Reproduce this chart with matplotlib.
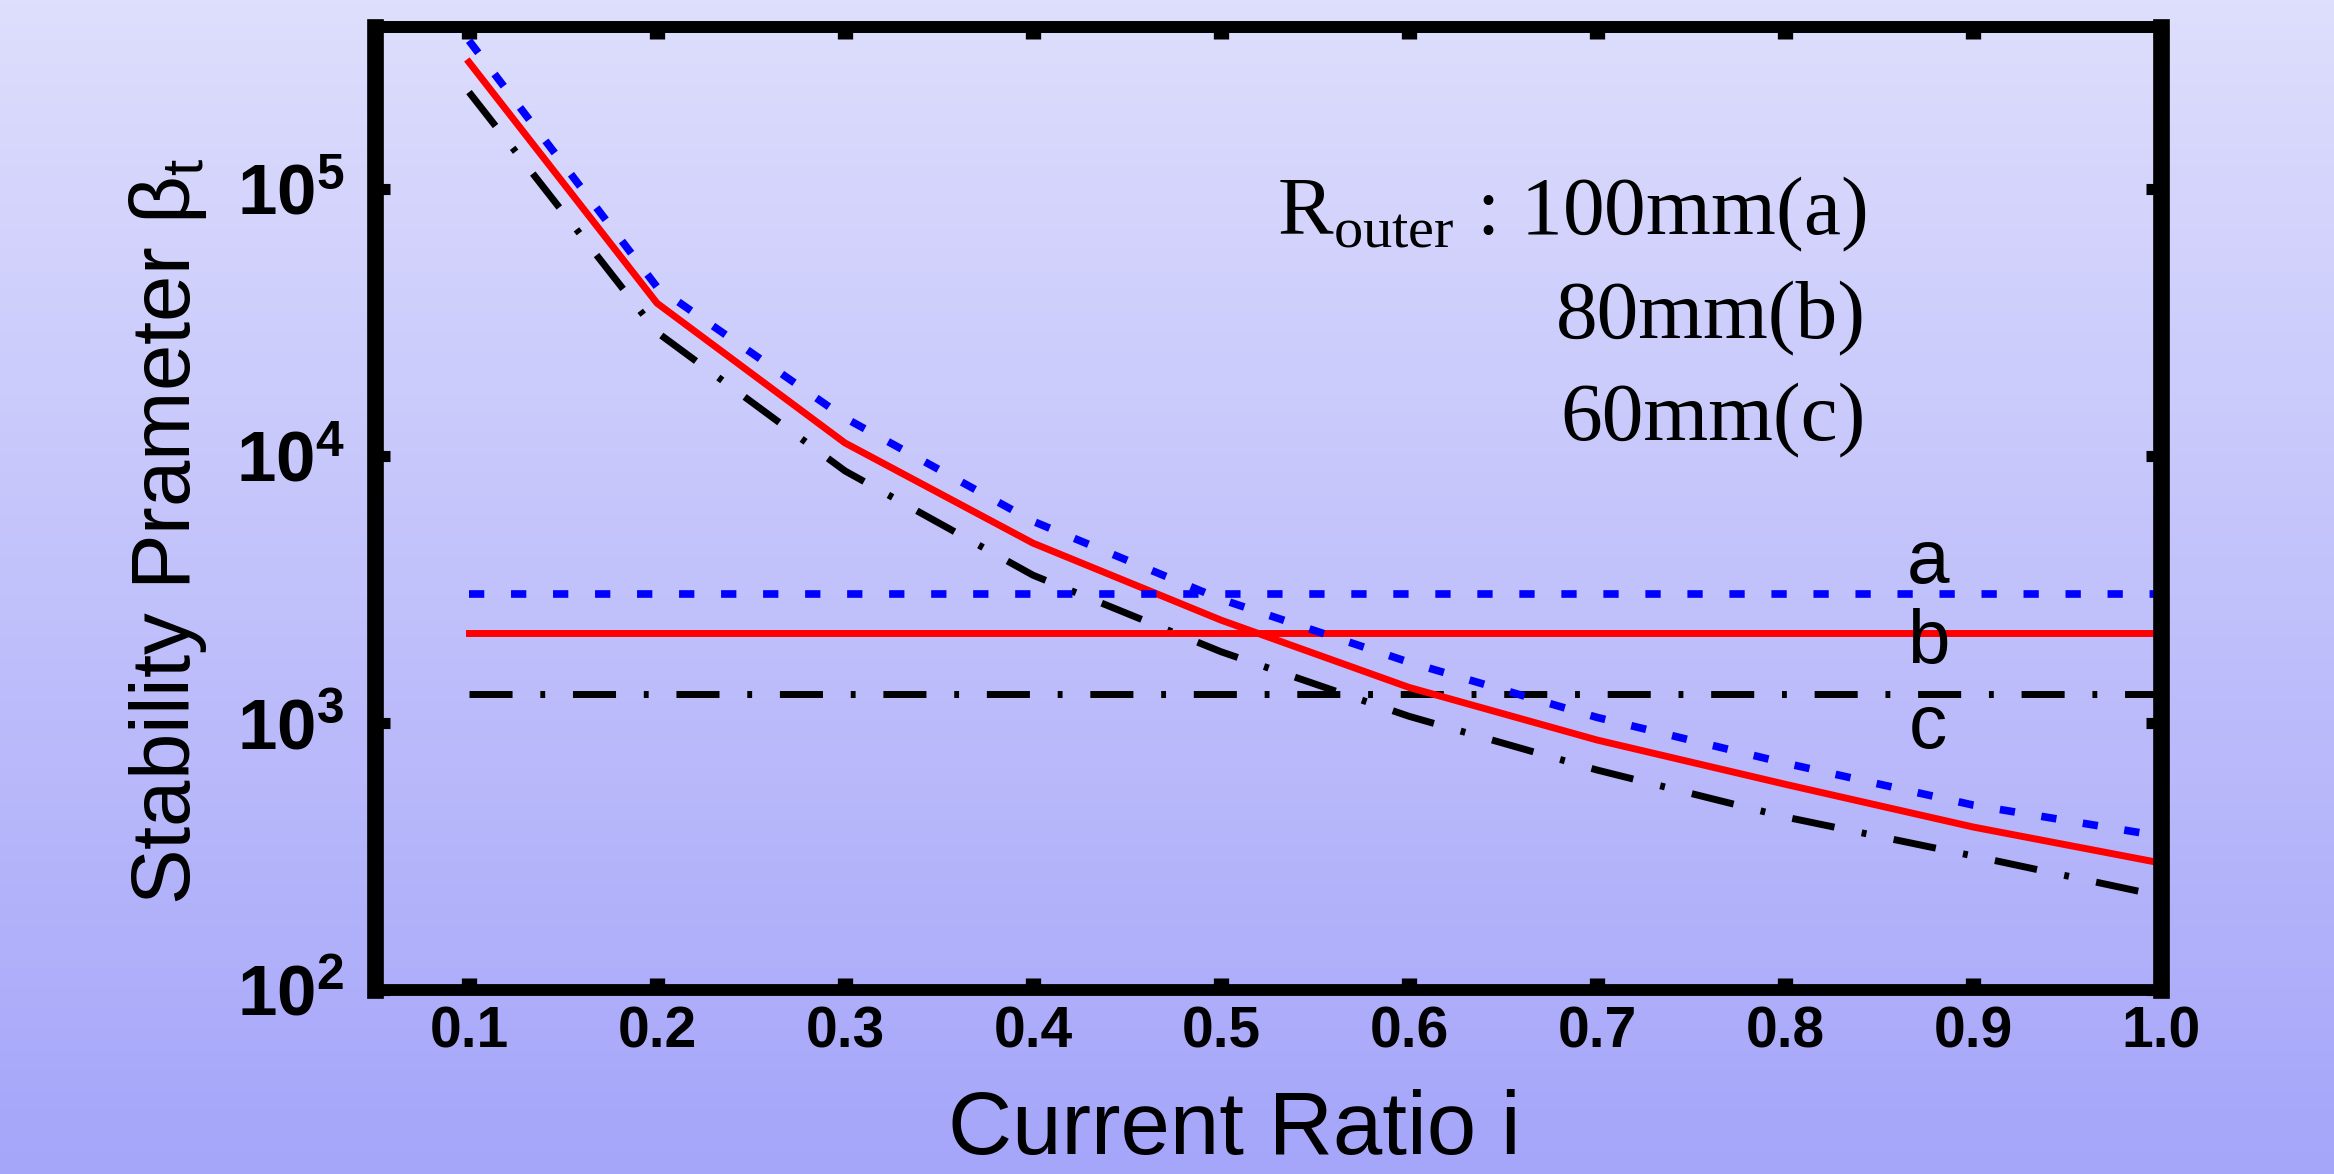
import matplotlib
matplotlib.use("Agg")
import matplotlib.pyplot as plt
import numpy as np
from matplotlib.ticker import FixedLocator, LogLocator, MultipleLocator, NullFormatter

plt.rcParams['font.family'] = ['Liberation Sans', 'DejaVu Sans']
plt.rcParams['mathtext.fontset'] = 'custom'
plt.rcParams['mathtext.rm'] = 'Liberation Sans:bold'
plt.rcParams['mathtext.bf'] = 'Liberation Sans:bold'
plt.rcParams['mathtext.sf'] = 'Liberation Sans'
plt.rcParams['mathtext.tt'] = 'Liberation Serif'

# data
current_ratio = [0.1, 0.2, 0.3, 0.4, 0.5, 0.6, 0.7, 0.8, 0.9, 1.0]
beta_a = [3.6e5, 4.3e4, 1.39e4, 5.7e3, 2.91e3, 1.69e3, 1050, 708, 493, 377]
beta_b = [2.99e5, 3.74e4, 1.12e4, 4.72e3, 2.43e3, 1.36e3, 864, 590, 408, 299]
beta_c = [2.31e5, 2.91e4, 8.8e3, 3.58e3, 1.85e3, 1.06e3, 667, 445, 318, 225]
limit_a = 3040
limit_b = 2170
limit_c = 1290
curve_names = ['a', 'b', 'c']
radius_labels = ['100mm(a)', '80mm(b)', '60mm(c)']
x_ticks = [0.1, 0.2, 0.3, 0.4, 0.5, 0.6, 0.7, 0.8, 0.9, 1.0]
x_ticklabels = ['0.1', '0.2', '0.3', '0.4', '0.5', '0.6', '0.7', '0.8', '0.9', '1.0']
y_ticks = [1e2, 1e3, 1e4, 1e5]
y_ticklabels = [r'$\mathbf{10^{2}}$', r'$\mathbf{10^{3}}$',
                r'$\mathbf{10^{4}}$', r'$\mathbf{10^{5}}$']

W, H = 2334, 1174
dpi = 100
fig = plt.figure(figsize=(W/dpi, H/dpi), dpi=dpi)

# vertical lavender gradient behind everything
bg = fig.add_axes([0, 0, 1, 1], zorder=0)
top_col = np.array([222, 222, 253]) / 255.
bot_col = np.array([165, 165, 250]) / 255.
t = np.linspace(0, 1, 256)[:, None]
grad = (top_col * (1 - t) + bot_col * t)[:, None, :]
bg.imshow(grad, aspect='auto', extent=[0, 1, 0, 1])
bg.axis('off')

left, right, top, bottom = 375, 2161, 27, 990
ax = fig.add_axes([left/W, 1 - bottom/H, (right-left)/W, (bottom-top)/H], zorder=1)
ax.patch.set_alpha(0)

lw = 5
dot = (0, (2.0, 3.5))
dashdot = (0, (6.2, 4.0, 0.7, 4.0))
ends = [current_ratio[0], current_ratio[-1]]

ax.plot(current_ratio, beta_c, color='black', lw=lw, ls=dashdot)
ax.plot(ends, [limit_c, limit_c], color='black', lw=lw, ls=dashdot)
ax.plot(current_ratio, beta_b, color='#ff0000', lw=lw)
ax.plot(ends, [limit_b, limit_b], color='#ff0000', lw=lw)
ax.plot(current_ratio, beta_a, color='#0000ff', lw=lw + 0.5, ls=dot)
ax.plot(ends, [limit_a, limit_a], color='#0000ff', lw=lw + 0.5, ls=dot)

ax.set_xlim(0.05, 1.0)
ax.set_yscale('log')
ax.set_ylim(100, 4.05e5)

# curve letters next to the horizontal lines
for name, ypos in zip(curve_names, [3340, 1680, 806]):
    ax.text(0.876, ypos, name, ha='center', va='baseline', fontsize=55)

# x axis: major ticks in, minor ticks out at the bottom
ax.set_xticks(x_ticks)
ax.set_xticklabels(x_ticklabels, fontweight='bold')
ax.xaxis.set_minor_locator(MultipleLocator(0.05))
ax.tick_params(axis='x', which='major', direction='in', length=8.5, width=11,
               pad=11, labelsize=41, top=False)
ax.tick_params(axis='x', which='minor', direction='out', length=3, width=11, top=False)

sec = ax.secondary_xaxis('top')
sec.set_xticks(x_ticks)
sec.xaxis.set_minor_locator(MultipleLocator(0.05))
sec.tick_params(which='major', direction='in', length=8.5, width=11, labeltop=False)
sec.tick_params(which='minor', direction='in', length=2.5, width=11)
sec.spines['top'].set_linewidth(8.5)

# y axis
ax.yaxis.set_major_locator(FixedLocator(y_ticks))
ax.set_yticklabels(y_ticklabels)
ax.yaxis.set_minor_locator(LogLocator(base=10, subs=np.arange(2, 10), numticks=20))
ax.yaxis.set_minor_formatter(NullFormatter())
ax.tick_params(axis='y', which='major', direction='in', length=11, width=8,
               pad=22, labelsize=51, left=True, right=True)
ax.tick_params(axis='y', which='minor', direction='in', length=3.5, width=3.5,
               left=True, right=True)

for side in ['left', 'right']:
    ax.spines[side].set_linewidth(12)
    ax.spines[side].set_capstyle('projecting')
for side in ['top', 'bottom']:
    ax.spines[side].set_linewidth(8.5)
    ax.spines[side].set_capstyle('projecting')

# axis titles
fig.text(1234/W, 1 - 1154/H, 'Current Ratio i', ha='center', va='baseline', fontsize=64)
fig.text(190/W, 1 - 905/H, r'Stability Prameter $\mathsf{\beta}_{\mathsf{t}}$',
         rotation=90, rotation_mode='anchor', ha='left', va='baseline', fontsize=60)

# radius annotation, right aligned
ann = [r'$\mathtt{R}_{\mathtt{outer}}$ : ' + radius_labels[0],
       radius_labels[1], radius_labels[2]]
for txt, base in zip(ann, [234, 338, 440]):
    fig.text(1866/W, 1 - base/H, txt, ha='right', va='baseline',
             family='Liberation Serif', fontsize=60)

fig.savefig('out.png', dpi=dpi)
